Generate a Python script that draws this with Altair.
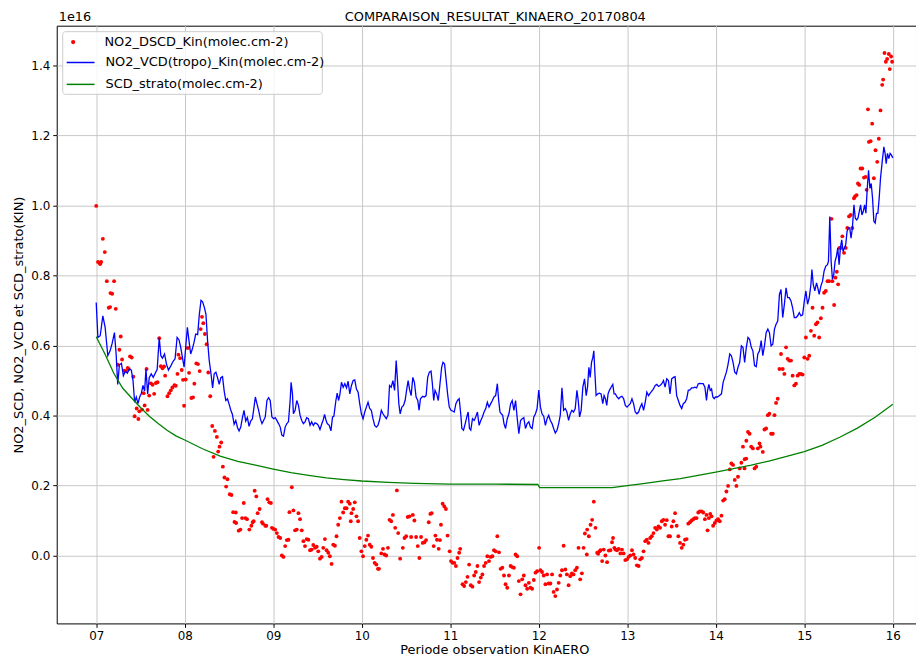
import altair as alt
import pandas as pd

# ---------------- data (values in units of 1e16 molec.cm-2) ----------------
chart_title = "COMPARAISON_RESULTAT_KINAERO_20170804"
dscd_label = "NO2_DSCD_Kin(molec.cm-2)"
vcd_label = "NO2_VCD(tropo)_Kin(molec.cm-2)"
strato_label = "SCD_strato(molec.cm-2)"

dscd_time = [7.000, 7.020, 7.037, 7.045, 7.056, 7.075, 7.097, 7.120, 7.142, 7.157, 7.161, 7.180, 7.202, 7.221, 7.243, 7.262, 7.277, 7.292, 7.318, 7.337,
             7.356, 7.367, 7.382, 7.401, 7.419, 7.434, 7.457, 7.476, 7.487, 7.517, 7.536, 7.547, 7.569, 7.581, 7.599, 7.618, 7.637, 7.655, 7.674, 7.693,
             7.712, 7.730, 7.749, 7.767, 7.779, 7.805, 7.824, 7.843, 7.861, 7.884, 7.899, 7.918, 7.929, 7.948, 7.966, 7.981, 7.993, 8.011, 8.034, 8.049,
             8.075, 8.094, 8.109, 8.131, 8.150, 8.169, 8.180, 8.195, 8.210, 8.228, 8.247, 8.266, 8.288, 8.311, 8.326, 8.341, 8.363, 8.378, 8.393, 8.412,
             8.431, 8.449, 8.468, 8.483, 8.509, 8.528, 8.547, 8.562, 8.577, 8.581, 8.610, 8.629, 8.648, 8.667, 8.685, 8.704, 8.730, 8.753, 8.768, 8.779,
             8.790, 8.809, 8.824, 8.846, 8.873, 8.884, 8.910, 8.921, 8.936, 8.955, 8.974, 8.985, 9.004, 9.022, 9.041, 9.060, 9.079, 9.097, 9.116, 9.135,
             9.154, 9.172, 9.183, 9.210, 9.228, 9.247, 9.266, 9.285, 9.303, 9.322, 9.341, 9.359, 9.378, 9.397, 9.416, 9.434, 9.453, 9.472, 9.491, 9.509,
             9.528, 9.547, 9.565, 9.584, 9.603, 9.622, 9.640, 9.659, 9.678, 9.697, 9.715, 9.734, 9.753, 9.771, 9.790, 9.809, 9.828, 9.846, 9.865, 9.876,
             9.884, 9.903, 9.921, 9.940, 9.959, 9.977, 9.996, 10.015, 10.034, 10.052, 10.071, 10.090, 10.108, 10.127, 10.146, 10.165, 10.183, 10.195, 10.221, 10.240,
             10.258, 10.277, 10.296, 10.314, 10.333, 10.352, 10.378, 10.397, 10.412, 10.434, 10.464, 10.483, 10.502, 10.520, 10.539, 10.558, 10.577, 10.595, 10.614, 10.633,
             10.651, 10.670, 10.689, 10.708, 10.727, 10.757, 10.775, 10.790, 10.813, 10.832, 10.850, 10.869, 10.884, 10.895, 10.914, 10.933, 10.951, 10.970, 10.993, 11.008,
             11.026, 11.045, 11.064, 11.082, 11.101, 11.112, 11.139, 11.157, 11.176, 11.195, 11.213, 11.232, 11.251, 11.270, 11.288, 11.307, 11.326, 11.345, 11.363, 11.382,
             11.401, 11.419, 11.438, 11.457, 11.476, 11.494, 11.513, 11.532, 11.551, 11.569, 11.588, 11.607, 11.625, 11.644, 11.663, 11.682, 11.700, 11.719, 11.738, 11.757,
             11.775, 11.794, 11.813, 11.831, 11.850, 11.869, 11.888, 11.906, 11.925, 11.944, 11.963, 11.981, 12.004, 12.019, 12.037, 12.056, 12.075, 12.094, 12.112, 12.131,
             12.150, 12.168, 12.187, 12.206, 12.225, 12.243, 12.262, 12.281, 12.300, 12.318, 12.337, 12.356, 12.374, 12.393, 12.412, 12.431, 12.449, 12.468, 12.487, 12.506,
             12.521, 12.543, 12.547, 12.566, 12.585, 12.603, 12.622, 12.641, 12.660, 12.671, 12.686, 12.697, 12.716, 12.734, 12.753, 12.772, 12.791, 12.809, 12.828, 12.839,
             12.854, 12.866, 12.884, 12.903, 12.922, 12.940, 12.959, 12.978, 12.997, 13.015, 13.034, 13.053, 13.071, 13.090, 13.109, 13.128, 13.146, 13.165, 13.184, 13.203,
             13.221, 13.240, 13.259, 13.277, 13.296, 13.315, 13.334, 13.352, 13.371, 13.390, 13.409, 13.427, 13.446, 13.465, 13.483, 13.502, 13.521, 13.540, 13.558, 13.577,
             13.596, 13.615, 13.633, 13.652, 13.671, 13.689, 13.708, 13.727, 13.746, 13.764, 13.783, 13.802, 13.820, 13.839, 13.858, 13.877, 13.895, 13.907, 13.922, 13.937,
             13.952, 13.970, 13.989, 14.008, 14.026, 14.045, 14.064, 14.083, 14.101, 14.120, 14.139, 14.158, 14.176, 14.195, 14.214, 14.233, 14.251, 14.270, 14.289, 14.307,
             14.325, 14.326, 14.344, 14.345, 14.364, 14.382, 14.400, 14.419, 14.438, 14.457, 14.475, 14.494, 14.505, 14.531, 14.550, 14.569, 14.588, 14.606, 14.625, 14.644,
             14.663, 14.681, 14.700, 14.719, 14.737, 14.756, 14.775, 14.794, 14.812, 14.831, 14.850, 14.868, 14.887, 14.906, 14.925, 14.943, 14.962, 14.981, 15.000, 15.018,
             15.037, 15.056, 15.075, 15.093, 15.112, 15.131, 15.149, 15.168, 15.187, 15.206, 15.224, 15.243, 15.262, 15.280, 15.307, 15.318, 15.337, 15.352, 15.367, 15.382,
             15.397, 15.412, 15.430, 15.449, 15.468, 15.486, 15.505, 15.524, 15.543, 15.561, 15.573, 15.591, 15.606, 15.621, 15.636, 15.655, 15.674, 15.692, 15.704, 15.719,
             15.730, 15.749, 15.767, 15.786, 15.805, 15.824, 15.842, 15.861, 15.880, 15.891, 15.906, 15.921, 15.936, 15.955, 15.966, 15.981, 15.992]
dscd_value = [0.999, 0.839, 0.836, 0.833, 0.839, 0.905, 0.867, 0.784, 0.708, 0.710, 0.750, 0.748, 0.784, 0.705, 0.545, 0.588, 0.626, 0.560, 0.528, 0.527,
              0.536, 0.533, 0.569, 0.566, 0.511, 0.398, 0.420, 0.390, 0.412, 0.417, 0.464, 0.429, 0.533, 0.416, 0.457, 0.492, 0.488, 0.462, 0.493, 0.495,
              0.621, 0.541, 0.535, 0.540, 0.514, 0.455, 0.464, 0.472, 0.480, 0.487, 0.485, 0.519, 0.574, 0.564, 0.530, 0.502, 0.428, 0.503, 0.593, 0.522,
              0.450, 0.452, 0.491, 0.549, 0.547, 0.527, 0.647, 0.682, 0.664, 0.633, 0.604, 0.523, 0.455, 0.370, 0.282, 0.356, 0.339, 0.297, 0.311, 0.323,
              0.254, 0.223, 0.197, 0.218, 0.175, 0.173, 0.124, 0.096, 0.123, 0.093, 0.071, 0.074, 0.107, 0.150, 0.107, 0.104, 0.074, 0.085, 0.095, 0.098,
              0.185, 0.169, 0.121, 0.133, 0.095, 0.091, 0.085, 0.085, 0.161, 0.152, 0.150, 0.079, 0.076, 0.074, 0.064, 0.053, 0.050, 0.000, -0.004, 0.027,
              0.044, 0.045, 0.124, 0.195, 0.129, 0.072, 0.074, 0.121, 0.104, 0.072, 0.041, 0.027, 0.047, 0.045, 0.015, 0.017, 0.030, 0.022, 0.025, 0.012,
              -0.009, -0.004, 0.022, 0.047, 0.015, 0.008, -0.002, -0.024, 0.031, 0.028, 0.055, 0.088, 0.107, 0.154, 0.123, 0.135, 0.135, 0.154, 0.148, 0.098,
              0.121, 0.133, 0.152, 0.112, 0.098, 0.050, 0.012, -0.002, 0.027, 0.045, 0.057, 0.031, 0.025, -0.007, -0.021, -0.026, -0.038, -0.038, 0.006, 0.019,
              0.003, 0.000, 0.022, 0.102, 0.098, 0.116, 0.079, 0.186, 0.064, -0.009, 0.022, 0.050, 0.055, 0.110, 0.112, 0.053, 0.116, 0.100, 0.053, 0.027,
              -0.007, 0.053, 0.036, 0.038, 0.044, 0.095, 0.119, 0.121, 0.027, 0.057, 0.045, 0.019, 0.044, 0.088, 0.148, 0.140, 0.133, 0.057, 0.012, -0.016,
              -0.021, -0.021, -0.030, -0.007, 0.008, 0.019, -0.082, -0.087, -0.076, -0.061, -0.026, -0.085, -0.089, -0.057, -0.047, -0.030, -0.076, -0.063, -0.054, -0.030,
              -0.021, -0.002, -0.016, -0.004, -0.002, 0.015, 0.012, 0.055, 0.009, -0.038, -0.035, -0.057, -0.082, -0.092, -0.057, -0.030, -0.033, -0.035, 0.003, -0.002,
              -0.073, -0.111, -0.068, -0.057, -0.085, -0.095, -0.078, -0.092, -0.095, -0.070, -0.049, -0.045, 0.022, -0.042, -0.047, -0.057, -0.082, -0.054, -0.080, -0.080,
              -0.054, -0.104, -0.116, -0.097, -0.078, -0.057, -0.042, 0.028, -0.040, -0.054, -0.085, -0.059, -0.051, -0.054, -0.042, -0.035, 0.022, -0.068, -0.051, 0.022,
              0.063, 0.003, 0.074, 0.055, 0.088, 0.102, 0.154, 0.079, 0.008, 0.005, 0.012, 0.015, -0.016, 0.017, 0.000, -0.019, 0.014, 0.015, 0.038, 0.050,
              0.022, 0.017, 0.015, 0.019, 0.006, 0.017, 0.006, -0.013, -0.011, -0.004, 0.000, 0.015, 0.003, -0.007, -0.028, -0.030, -0.011, -0.007, 0.012, 0.041,
              0.045, 0.036, 0.050, 0.055, 0.064, 0.079, 0.074, 0.083, 0.079, 0.098, 0.102, 0.088, 0.101, 0.055, 0.055, 0.083, 0.098, 0.121, 0.085, 0.055,
              0.036, 0.022, 0.031, 0.045, 0.047, 0.091, 0.095, 0.100, 0.104, 0.107, 0.107, 0.123, 0.126, 0.126, 0.123, 0.104, 0.116, 0.072, 0.107, 0.119,
              0.112, 0.085, 0.093, 0.100, 0.104, 0.098, 0.114, 0.157, 0.161, 0.183, 0.199, 0.246, 0.263, 0.259, 0.216, 0.199, 0.225, 0.249, 0.265, 0.311,
              0.249, 0.275, 0.277, 0.328, 0.353, 0.348, 0.311, 0.306, 0.249, 0.254, 0.306, 0.320, 0.311, 0.296, 0.360, 0.363, 0.401, 0.405, 0.348, 0.348,
              0.401, 0.436, 0.448, 0.533, 0.576, 0.533, 0.519, 0.595, 0.562, 0.557, 0.557, 0.514, 0.486, 0.491, 0.514, 0.519, 0.519, 0.517, 0.566, 0.623,
              0.562, 0.571, 0.642, 0.708, 0.628, 0.661, 0.666, 0.623, 0.678, 0.708, 0.751, 0.756, 0.784, 0.784, 0.962, 0.784, 0.716, 0.794, 0.811, 0.775,
              0.879, 0.879, 0.912, 0.865, 0.879, 0.936, 0.969, 0.973, 0.936, 1.021, 1.026, 1.030, 1.063, 1.059, 1.106, 1.106, 1.080, 1.082, 1.045, 1.275,
              1.182, 1.184, 1.234, 1.078, 1.158, 1.125, 1.191, 1.272, 1.345, 1.360, 1.436, 1.411, 1.419, 1.433, 1.390, 1.426, 1.411]

vcd_time = [7.000, 7.019, 7.045, 7.075, 7.101, 7.131, 7.157, 7.180, 7.206, 7.225, 7.243, 7.262, 7.285, 7.307, 7.330, 7.352, 7.375, 7.397, 7.416, 7.434,
            7.453, 7.472, 7.491, 7.509, 7.528, 7.547, 7.562, 7.581, 7.599, 7.622, 7.644, 7.667, 7.689, 7.712, 7.730, 7.749, 7.772, 7.794, 7.816, 7.843,
            7.869, 7.891, 7.914, 7.936, 7.955, 7.974, 7.993, 8.011, 8.030, 8.049, 8.067, 8.086, 8.105, 8.124, 8.146, 8.165, 8.184, 8.202, 8.221, 8.240,
            8.258, 8.277, 8.296, 8.315, 8.333, 8.352, 8.371, 8.390, 8.408, 8.427, 8.446, 8.464, 8.483, 8.502, 8.521, 8.539, 8.558, 8.577, 8.596, 8.614,
            8.633, 8.652, 8.670, 8.689, 8.708, 8.727, 8.745, 8.764, 8.783, 8.798, 8.816, 8.835, 8.854, 8.873, 8.891, 8.910, 8.929, 8.948, 8.966, 8.985,
            9.004, 9.022, 9.041, 9.060, 9.079, 9.097, 9.116, 9.135, 9.154, 9.172, 9.191, 9.202, 9.217, 9.228, 9.247, 9.266, 9.285, 9.303, 9.322, 9.341,
            9.359, 9.378, 9.397, 9.416, 9.434, 9.453, 9.472, 9.491, 9.509, 9.528, 9.547, 9.565, 9.580, 9.595, 9.610, 9.633, 9.652, 9.670, 9.685, 9.708,
            9.723, 9.738, 9.753, 9.771, 9.790, 9.809, 9.828, 9.846, 9.865, 9.884, 9.903, 9.921, 9.940, 9.959, 9.977, 9.996, 10.015, 10.034, 10.052, 10.071,
            10.090, 10.108, 10.127, 10.146, 10.165, 10.183, 10.202, 10.221, 10.240, 10.258, 10.277, 10.296, 10.314, 10.333, 10.352, 10.371, 10.389, 10.404, 10.419, 10.434,
            10.453, 10.472, 10.490, 10.509, 10.524, 10.539, 10.558, 10.577, 10.595, 10.614, 10.633, 10.648, 10.663, 10.689, 10.708, 10.727, 10.745, 10.764, 10.783, 10.798,
            10.813, 10.828, 10.846, 10.865, 10.884, 10.903, 10.918, 10.936, 10.951, 10.970, 10.989, 11.008, 11.026, 11.045, 11.064, 11.082, 11.101, 11.120, 11.131, 11.150,
            11.169, 11.187, 11.202, 11.217, 11.232, 11.251, 11.270, 11.288, 11.307, 11.326, 11.345, 11.363, 11.382, 11.401, 11.419, 11.438, 11.457, 11.476, 11.494, 11.513,
            11.532, 11.547, 11.562, 11.577, 11.592, 11.607, 11.625, 11.644, 11.663, 11.682, 11.700, 11.719, 11.738, 11.757, 11.775, 11.794, 11.813, 11.831, 11.850, 11.869,
            11.888, 11.906, 11.925, 11.944, 11.963, 11.981, 12.000, 12.019, 12.037, 12.056, 12.075, 12.094, 12.112, 12.131, 12.150, 12.168, 12.187, 12.206, 12.225, 12.243,
            12.262, 12.281, 12.300, 12.318, 12.337, 12.356, 12.374, 12.393, 12.412, 12.431, 12.446, 12.461, 12.479, 12.498, 12.517, 12.536, 12.551, 12.566, 12.581, 12.596,
            12.611, 12.622, 12.633, 12.648, 12.667, 12.686, 12.704, 12.723, 12.738, 12.753, 12.768, 12.783, 12.798, 12.817, 12.836, 12.851, 12.866, 12.884, 12.903, 12.922,
            12.940, 12.959, 12.978, 12.997, 13.015, 13.034, 13.053, 13.071, 13.090, 13.109, 13.128, 13.146, 13.165, 13.184, 13.203, 13.221, 13.240, 13.259, 13.277, 13.296,
            13.315, 13.334, 13.352, 13.371, 13.390, 13.409, 13.427, 13.446, 13.465, 13.483, 13.502, 13.521, 13.540, 13.558, 13.577, 13.596, 13.615, 13.633, 13.652, 13.671,
            13.689, 13.708, 13.727, 13.746, 13.764, 13.783, 13.802, 13.820, 13.839, 13.858, 13.877, 13.895, 13.907, 13.922, 13.937, 13.952, 13.967, 13.982, 13.997, 14.019,
            14.042, 14.064, 14.083, 14.101, 14.120, 14.139, 14.158, 14.176, 14.195, 14.214, 14.233, 14.251, 14.270, 14.289, 14.307, 14.326, 14.345, 14.364, 14.382, 14.401,
            14.419, 14.438, 14.457, 14.475, 14.494, 14.513, 14.531, 14.550, 14.569, 14.588, 14.606, 14.625, 14.644, 14.663, 14.681, 14.700, 14.719, 14.737, 14.756, 14.775,
            14.794, 14.812, 14.831, 14.850, 14.868, 14.887, 14.906, 14.925, 14.943, 14.962, 14.981, 15.000, 15.018, 15.037, 15.056, 15.075, 15.086, 15.101, 15.119, 15.138,
            15.153, 15.168, 15.187, 15.206, 15.224, 15.243, 15.262, 15.273, 15.288, 15.303, 15.318, 15.333, 15.348, 15.363, 15.378, 15.393, 15.408, 15.423, 15.438, 15.453,
            15.468, 15.483, 15.498, 15.513, 15.528, 15.543, 15.561, 15.576, 15.591, 15.606, 15.621, 15.636, 15.651, 15.666, 15.681, 15.696, 15.711, 15.726, 15.741, 15.756,
            15.771, 15.786, 15.801, 15.816, 15.831, 15.846, 15.861, 15.880, 15.899, 15.913, 15.925, 15.940, 15.955, 15.970, 15.985, 16.000]
vcd_value = [0.723, 0.623, 0.628, 0.685, 0.652, 0.571, 0.585, 0.606, 0.637, 0.576, 0.489, 0.545, 0.549, 0.514, 0.527, 0.521, 0.533, 0.530, 0.500, 0.438,
             0.453, 0.434, 0.453, 0.462, 0.486, 0.470, 0.533, 0.462, 0.508, 0.519, 0.509, 0.521, 0.532, 0.623, 0.571, 0.564, 0.576, 0.547, 0.530, 0.542,
             0.555, 0.562, 0.623, 0.616, 0.595, 0.566, 0.538, 0.595, 0.652, 0.612, 0.576, 0.590, 0.609, 0.633, 0.631, 0.689, 0.729, 0.725, 0.710, 0.689,
             0.614, 0.557, 0.521, 0.479, 0.519, 0.524, 0.508, 0.489, 0.508, 0.511, 0.470, 0.443, 0.448, 0.432, 0.415, 0.403, 0.375, 0.386, 0.366, 0.356,
             0.367, 0.394, 0.415, 0.384, 0.394, 0.369, 0.384, 0.390, 0.424, 0.453, 0.434, 0.415, 0.391, 0.377, 0.386, 0.396, 0.443, 0.451, 0.443, 0.396,
             0.391, 0.394, 0.386, 0.377, 0.367, 0.344, 0.341, 0.367, 0.377, 0.382, 0.443, 0.495, 0.462, 0.405, 0.415, 0.443, 0.429, 0.401, 0.386, 0.377,
             0.382, 0.394, 0.391, 0.372, 0.382, 0.372, 0.379, 0.377, 0.372, 0.360, 0.375, 0.388, 0.403, 0.388, 0.377, 0.372, 0.356, 0.396, 0.398, 0.443,
             0.464, 0.443, 0.460, 0.495, 0.481, 0.491, 0.479, 0.498, 0.462, 0.486, 0.500, 0.502, 0.476, 0.467, 0.434, 0.405, 0.391, 0.410, 0.424, 0.438,
             0.420, 0.415, 0.391, 0.372, 0.367, 0.372, 0.388, 0.415, 0.405, 0.398, 0.391, 0.401, 0.486, 0.481, 0.500, 0.472, 0.557, 0.500, 0.434, 0.405,
             0.424, 0.429, 0.443, 0.476, 0.500, 0.476, 0.457, 0.509, 0.495, 0.453, 0.443, 0.415, 0.448, 0.455, 0.453, 0.457, 0.509, 0.524, 0.527, 0.491,
             0.443, 0.472, 0.462, 0.443, 0.491, 0.538, 0.552, 0.547, 0.509, 0.462, 0.424, 0.415, 0.413, 0.410, 0.434, 0.443, 0.448, 0.401, 0.363, 0.358,
             0.377, 0.396, 0.410, 0.363, 0.358, 0.391, 0.386, 0.396, 0.410, 0.372, 0.386, 0.396, 0.410, 0.420, 0.438, 0.424, 0.434, 0.443, 0.453, 0.457,
             0.491, 0.443, 0.410, 0.405, 0.401, 0.377, 0.363, 0.391, 0.405, 0.434, 0.443, 0.415, 0.443, 0.391, 0.348, 0.386, 0.391, 0.394, 0.363, 0.377,
             0.382, 0.367, 0.363, 0.396, 0.405, 0.420, 0.473, 0.424, 0.405, 0.398, 0.372, 0.391, 0.401, 0.386, 0.377, 0.363, 0.350, 0.358, 0.377, 0.401,
             0.479, 0.415, 0.420, 0.410, 0.386, 0.405, 0.415, 0.410, 0.420, 0.472, 0.443, 0.396, 0.415, 0.481, 0.505, 0.457, 0.481, 0.538, 0.509, 0.552,
             0.566, 0.585, 0.528, 0.457, 0.462, 0.464, 0.462, 0.434, 0.457, 0.448, 0.429, 0.462, 0.472, 0.481, 0.489, 0.462, 0.462, 0.453, 0.448, 0.453,
             0.455, 0.448, 0.429, 0.424, 0.429, 0.434, 0.448, 0.434, 0.410, 0.405, 0.410, 0.424, 0.434, 0.415, 0.438, 0.467, 0.457, 0.464, 0.470, 0.476,
             0.486, 0.489, 0.483, 0.486, 0.491, 0.500, 0.481, 0.505, 0.500, 0.462, 0.505, 0.509, 0.511, 0.457, 0.443, 0.429, 0.420, 0.434, 0.438, 0.448,
             0.472, 0.473, 0.479, 0.479, 0.481, 0.479, 0.491, 0.492, 0.491, 0.491, 0.481, 0.443, 0.472, 0.489, 0.472, 0.476, 0.453, 0.448, 0.453, 0.453,
             0.457, 0.462, 0.495, 0.509, 0.524, 0.547, 0.576, 0.571, 0.552, 0.524, 0.519, 0.538, 0.552, 0.599, 0.595, 0.552, 0.595, 0.623, 0.618, 0.595,
             0.585, 0.543, 0.540, 0.576, 0.585, 0.614, 0.571, 0.599, 0.637, 0.647, 0.637, 0.599, 0.604, 0.647, 0.661, 0.670, 0.746, 0.760, 0.680, 0.718,
             0.765, 0.737, 0.737, 0.727, 0.708, 0.680, 0.680, 0.685, 0.694, 0.685, 0.688, 0.727, 0.756, 0.718, 0.737, 0.775, 0.817, 0.775, 0.756, 0.779,
             0.765, 0.746, 0.770, 0.784, 0.813, 0.827, 0.831, 0.841, 0.969, 0.841, 0.789, 0.803, 0.841, 0.855, 0.879, 0.831, 0.879, 0.902, 0.869, 0.879,
             0.888, 0.926, 0.936, 0.936, 0.907, 0.936, 1.002, 0.964, 0.959, 0.964, 0.983, 1.002, 0.973, 0.983, 1.002, 0.978, 1.049, 1.101, 1.049, 1.063,
             1.021, 0.955, 0.950, 0.978, 0.978, 1.021, 1.078, 1.125, 1.168, 1.149, 1.120, 1.149, 1.134, 1.149, 1.144, 1.136]

strato_time = [7.0, 7.1, 7.2, 7.3, 7.4, 7.5, 7.6, 7.7, 7.8, 7.9, 8.0, 8.2, 8.4, 8.6, 8.8, 9.0, 9.2, 9.4, 9.6, 9.8,
               10.0, 10.3, 10.6, 11.0, 11.5, 11.99, 12.01, 12.5, 12.83, 13.0, 13.2, 13.4, 13.6, 13.8, 14.0, 14.2, 14.4, 14.6, 14.8, 15.0,
               15.2, 15.4, 15.6, 15.8, 16.0]
strato_value = [0.625, 0.575, 0.520, 0.478, 0.450, 0.423, 0.398, 0.377, 0.358, 0.342, 0.330, 0.305, 0.284, 0.269, 0.258, 0.247, 0.237, 0.229, 0.222, 0.217,
                0.213, 0.209, 0.206, 0.204, 0.204, 0.203, 0.194, 0.194, 0.194, 0.200, 0.206, 0.213, 0.220, 0.229, 0.238, 0.248, 0.258, 0.270, 0.283, 0.297,
                0.315, 0.338, 0.364, 0.395, 0.432]

hour_ticks = [7, 8, 9, 10, 11, 12, 13, 14, 15, 16]
value_ticks = [0.0, 0.2, 0.4, 0.6, 0.8, 1.0, 1.2, 1.4]

# ---------------- tables ----------------
pts_df = pd.DataFrame({"t": dscd_time, "v": dscd_value, "s": dscd_label})
lines_df = pd.concat([
    pd.DataFrame({"t": vcd_time, "v": vcd_value, "s": vcd_label}),
    pd.DataFrame({"t": strato_time, "v": strato_value, "s": strato_label}),
], ignore_index=True)

FONT = "DejaVu Sans"

x_enc = alt.X(
    "t:Q",
    scale=alt.Scale(domain=[6.554, 16.262], nice=False, zero=False),
    axis=alt.Axis(
        values=hour_ticks,
        labelExpr="datum.value < 10 ? '0' + datum.value : '' + datum.value",
        title="Periode observation KinAERO",
        titleX=440,
        titlePadding=2,
    ),
)
y_enc = alt.Y(
    "v:Q",
    scale=alt.Scale(domain=[-0.194, 1.514], nice=False, zero=False),
    axis=alt.Axis(
        values=value_ticks,
        format=".1f",
        title="NO2_SCD, NO2_VCD et SCD_strato(KIN)",
        titlePadding=5,
    ),
)

points = alt.Chart(pts_df).mark_circle(size=15, opacity=1).encode(
    x=x_enc,
    y=y_enc,
    color=alt.Color(
        "s:N",
        scale=alt.Scale(domain=[dscd_label], range=["#ff0000"]),
        legend=alt.Legend(
            orient="none", legendX=10, legendY=10, title=None,
            symbolType="circle", symbolSize=18, symbolStrokeWidth=0,
            labelFont=FONT, labelFontSize=13, labelColor="#000000", labelLimit=400,
            labelOffset=25, padding=0,
        ),
    ),
)

lines = alt.Chart(lines_df).mark_line(strokeWidth=1.3).encode(
    x=x_enc,
    y=y_enc,
    color=alt.Color(
        "s:N",
        scale=alt.Scale(domain=[vcd_label, strato_label], range=["#0000ff", "#008000"]),
        legend=alt.Legend(
            orient="none", legendX=9, legendY=22, title=None,
            symbolType="stroke", symbolSize=784, symbolStrokeWidth=1.5,
            labelFont=FONT, labelFontSize=13, labelColor="#000000", labelLimit=400,
            labelOffset=10, rowPadding=-10, padding=0,
        ),
    ),
)

frame = alt.Chart(pd.DataFrame({"k": [0]})).mark_rect(
    fill="white", fillOpacity=0.8, stroke="#cccccc", strokeWidth=1, cornerRadius=3
).encode(x=alt.value(6), x2=alt.value(267), y=alt.value(6), y2=alt.value(69))

exponent = alt.Chart(pd.DataFrame({"k": ["1e16"]})).mark_text(
    align="left", baseline="alphabetic", font=FONT, fontSize=13, color="#000000"
).encode(x=alt.value(2), y=alt.value(-5), text="k:N")

title_mark = alt.Chart(pd.DataFrame({"k": [chart_title]})).mark_text(
    align="center", baseline="alphabetic", font=FONT, fontSize=13, color="#000000"
).encode(x=alt.value(441), y=alt.value(-5), text="k:N")

chart = (
    alt.layer(points, lines, frame, exponent, title_mark)
    .resolve_scale(color="independent")
    .properties(
        width=864,
        height=601,
        autosize=alt.AutoSizeParams(type="none"),
        padding={"left": 49, "top": 16, "right": 0, "bottom": 36},
        background="white",
    )
    .configure_view(stroke="#000000", strokeWidth=1)
    .configure_axis(
        labelFont=FONT, labelFontSize=12, labelColor="#000000",
        titleFont=FONT, titleFontSize=13, titleFontWeight="normal", titleColor="#000000",
        grid=True, gridColor="#c8c8c8", gridWidth=1,
        domain=False, tickColor="#000000", tickSize=4, labelPadding=3,
    )
)

chart.save("out.html", embed_options={"renderer": "svg", "actions": False})
